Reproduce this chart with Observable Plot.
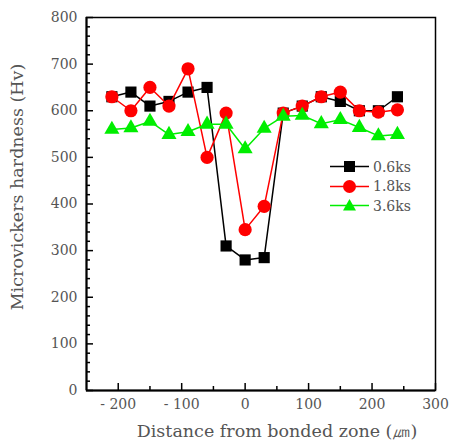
<!DOCTYPE html>
<html>
<head>
<meta charset="utf-8">
<script src="https://cdn.jsdelivr.net/npm/d3@7"></script>
<script src="https://cdn.jsdelivr.net/npm/@observablehq/plot@0.6"></script>
<style>
  body { margin: 0; background: #fff; }
  #wrap { position: relative; width: 450px; height: 441px; font-family: "DejaVu Serif", serif; }
  .leg { position: absolute; left: 330px; font-size: 14px; color: #555; }
  .leg div { height: 19.5px; display: flex; align-items: center; }
  .leg svg { margin-right: 4px; }
</style>
</head>
<body>
<div id="wrap"></div>
<script>
const distance = [-210, -180, -150, -120, -90, -60, -30, 0, 30, 60, 90, 120, 150, 180, 210, 240];
const hv06 = [630, 640, 610, 620, 640, 650, 310, 280, 285, 595, 610, 630, 620, 600, 600, 630];
const hv18 = [630, 600, 650, 610, 690, 500, 595, 345, 395, 595, 610, 630, 640, 600, 597, 602];
const hv36 = [560, 563, 577, 549, 555, 571, 571, 518, 562, 588, 590, 572, 581, 564, 546, 549];
const seriesNames = ["0.6ks", "1.8ks", "3.6ks"];
const seriesColors = ["#000000", "#ff0000", "#00ee00"];
const seriesSymbols = ["square", "circle", "triangle"];
const xMajor = [-200, -100, 0, 100, 200, 300];
const xMinor = [-150, -50, 50, 150, 250];
const yMajor = [0, 100, 200, 300, 400, 500, 600, 700, 800];
const yMinor = d3.range(20, 800, 20).filter(v => v % 100 !== 0);

const W = 450, H = 441, mL = 86, mR = 15, mT = 17, mB = 51;
const pw = W - mL - mR, ph = H - mT - mB;

const series = [hv06, hv18, hv36].map((vals, i) =>
  distance.map((x, j) => ({x, y: vals[j], s: seriesNames[i]})));

const lineMarks = [];
series.forEach((data, i) => {
  const sizes = [6.3, 6.6, 5.6];
  lineMarks.push(Plot.line(data, {x: "x", y: "y", stroke: seriesColors[i], strokeWidth: 1.5}));
  lineMarks.push(Plot.dot(data, {x: "x", y: "y", fill: seriesColors[i], stroke: "none", symbol: seriesSymbols[i], r: sizes[i]}));
});

const fmtX = d => d < 0 ? "- " + (-d) : String(d);

const chart = Plot.plot({
  width: W, height: H,
  marginLeft: mL, marginRight: mR, marginTop: mT, marginBottom: mB,
  style: {fontFamily: "DejaVu Serif, serif", fontSize: "14px", color: "#555", background: "#fff"},
  x: {domain: [-250, 300], label: null},
  y: {domain: [0, 800], label: null},
  marks: [
    Plot.axisX({ticks: xMajor, tickSize: 0, tickPadding: 9, tickFormat: fmtX, fill: "#555", fontSize: 14, label: null}),
    Plot.axisY({ticks: yMajor, tickSize: 0, tickPadding: 9, fill: "#555", fontSize: 14, label: null}),
    Plot.ruleX(xMajor, {x: d => d, insetTop: ph - 7, stroke: "#000", strokeWidth: 1.5}),
    Plot.ruleX(xMinor, {x: d => d, insetTop: ph - 4, stroke: "#000", strokeWidth: 1.5}),
    Plot.ruleY(yMajor, {y: d => d, insetRight: pw - 7, stroke: "#000", strokeWidth: 1.5}),
    Plot.ruleY(yMinor, {y: d => d, insetRight: pw - 4, stroke: "#000", strokeWidth: 1.5}),
    Plot.frame({stroke: "#000", strokeWidth: 1.5}),
    Plot.ruleY([0], {stroke: "#000", strokeWidth: 2}),
    Plot.ruleX([-250], {stroke: "#000", strokeWidth: 2}),
    ...lineMarks,
    Plot.text(["Distance from bonded zone (\u339B)"], {frameAnchor: "bottom", dx: 16, dy: 46, fontSize: 17.5, fill: "#555", text: d => d}),
    Plot.text(["Microvickers hardness (Hv)"], {frameAnchor: "left", textAnchor: "middle", dx: -69, dy: -17, rotate: -90, fontSize: 17.5, fill: "#555", text: d => d})
  ]
});

const wrap = document.getElementById("wrap");
wrap.appendChild(chart);

// legend
const leg = document.createElement("div");
leg.className = "leg";
leg.style.top = "157px";
const shapes = {
  square: c => `<rect x="14" y="4" width="11" height="11" fill="${c}"/>`,
  circle: c => `<circle cx="19.5" cy="9.5" r="6.5" fill="${c}"/>`,
  triangle: c => `<polygon points="19.5,3 26,14.5 13,14.5" fill="${c}"/>`
};
seriesNames.forEach((n, i) => {
  const row = document.createElement("div");
  row.innerHTML = `<svg width="39" height="19"><line x1="0" x2="39" y1="9.5" y2="9.5" stroke="${seriesColors[i]}" stroke-width="1.5"/>${shapes[seriesSymbols[i]](seriesColors[i])}</svg><span>${n}</span>`;
  leg.appendChild(row);
});
wrap.appendChild(leg);
</script>
</body>
</html>
